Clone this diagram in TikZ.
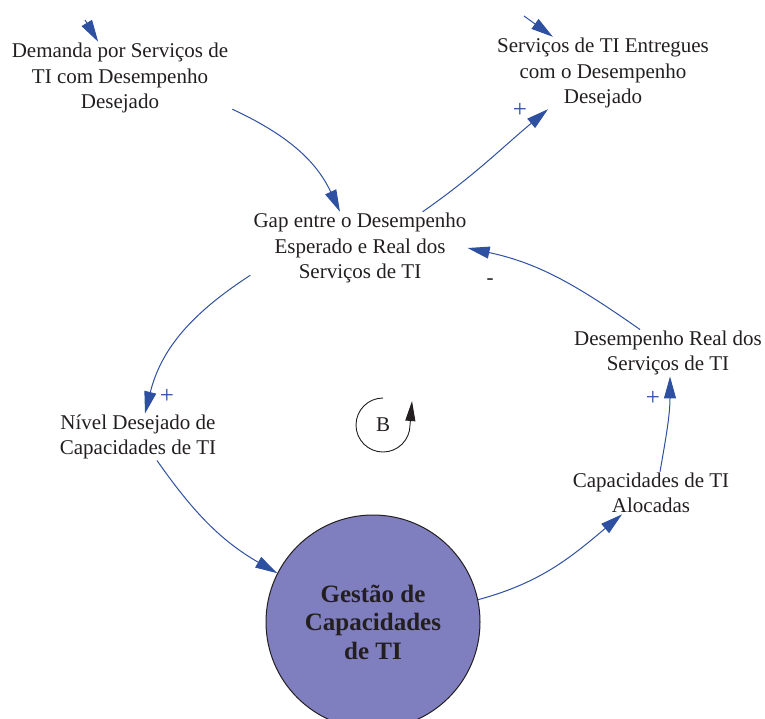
\documentclass[tikz,border=0pt]{standalone}
\usepackage{fontspec}
\setmainfont{Liberation Serif}
\usetikzlibrary{arrows.meta}

\definecolor{linkblue}{RGB}{46,80,160}
\definecolor{gestfill}{RGB}{127,126,190}
\definecolor{textgray}{RGB}{35,31,32}

\begin{document}
\begin{tikzpicture}[
        x=1pt, y=1pt,
        factor/.style={align=center, text=textgray, inner sep=1pt, font=\fontsize{21}{25.5}\selectfont},
        core/.style={circle, draw=textgray, line width=1pt, fill=gestfill, minimum size=214pt, align=center, text=textgray, font=\fontsize{25}{28.5}\selectfont\bfseries},
        link/.style={color=linkblue, line width=1pt, -{Triangle[length=22pt,width=12pt]}},
        polarity/.style={text=linkblue, font=\fontsize{25}{25}\selectfont}
    ]
        \useasboundingbox (0,0) rectangle (765,-718);
        \clip (0,0) rectangle (765,-718);

        % Variables of the loop
        \node[factor] (dem) at (120,-78) {Demanda por Serviços de\\TI com Desempenho\\Desejado};
        \node[factor] (ent) at (603,-73) {Serviços de TI Entregues\\com o Desempenho\\Desejado};
        \node[factor] (gap) at (360,-248) {Gap entre o Desempenho\\Esperado e Real dos\\Serviços de TI};
        \node[factor] (niv) at (138,-437) {Nível Desejado de\\Capacidades de TI};
        \node[factor] (real) at (668,-353) {Desempenho Real dos\\Serviços de TI};
        \node[factor] (aloc) at (651,-493) {Capacidades de TI\\Alocadas};

        % Central process
        \node[core] (gest) at (373,-622) {Gestão de\\Capacidades\\de TI};

        % Inflows from outside the picture
        \coordinate (demin) at (85,-20);
        \coordinate (entin) at (524,-16);
        \draw[link] (demin) -- (dem);
        \draw[link] (entin) -- (ent);

        % Causal links
        \draw[link] ([shift={(3pt,5pt)}]dem.south east) to[out=-25,in=115] ([xshift=-20pt]gap.north);
        \draw[link] ([xshift=-45pt]gap.north east) to[out=35,in=220] ([xshift=-55pt]ent.south);
        \draw[link] ([shift={(-2pt,9pt)}]gap.south west) to[out=213,in=76] ([xshift=7pt]niv.north);
        \draw[link] ([xshift=19pt]niv.south) to[out=-55,in=150] (gest.153);
        \draw[link] (gest.12) to[out=15,in=220] ([xshift=-29pt]aloc.south);
        \draw[link] ([xshift=9pt]aloc.north) to[out=80,in=-90] ([xshift=2pt]real.south);
        \draw[link] ([xshift=-28pt]real.north) to[out=145,in=-12] (gap.east);

        % Polarities
        \node[polarity] (pent) at (520,-110) {+};
        \node[polarity] (pniv) at (167,-396) {+};
        \node[polarity] (preal) at (653,-398) {+};
        \node[text=textgray, font=\fontsize{21}{21}\selectfont] (mgap) at (490,-282) {-};

        % Balancing loop marker
        \node[text=textgray, font=\fontsize{21}{21}\selectfont] (loopb) at (383,-425) {B};
        \draw[textgray, line width=0.9pt, -{Triangle[length=20pt,width=10pt]}] ([yshift=27pt]loopb.center) arc[start angle=90, end angle=360, radius=27pt] -- ++(2,24);

    \end{tikzpicture}
\end{document}
